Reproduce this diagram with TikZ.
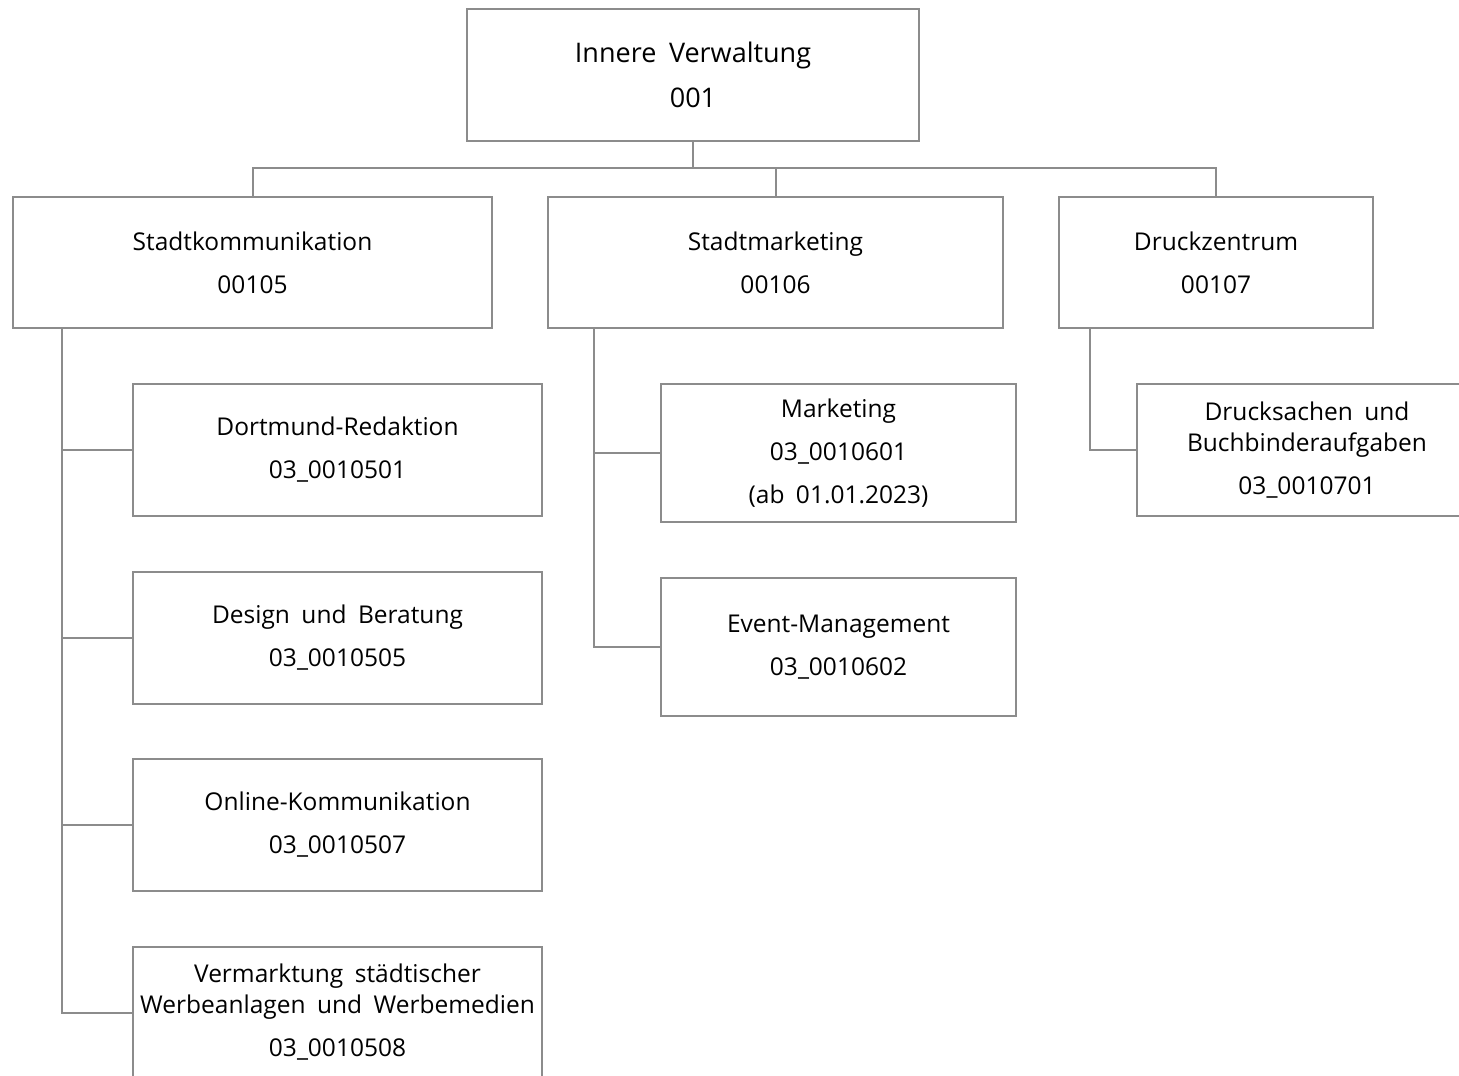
\documentclass[tikz,border=0pt]{standalone}
\usepackage{fontspec}
\setmainfont{Open Sans}[WordSpace=1.8]
\usepackage{xcolor}
\usepackage{tikz}
\usetikzlibrary{positioning}

\begin{document}
\begin{tikzpicture}[
    x=1pt, y=-1pt,
    node distance=55.5pt,
    unit/.style={rectangle, draw=black!45, line width=2pt, outer sep=0pt, minimum width=#1, minimum height=132pt, align=center, inner sep=0pt, font=\fontsize{24.5}{31}\selectfont},
    sub/.style={unit=409pt},
    link/.style={draw=black!45, line width=2pt},
]
\useasboundingbox (0,0) rectangle (1459,1076);

% Spitze
\node[unit=452pt, font=\fontsize{27}{31}\selectfont] (iv) at (693,75) {Innere Verwaltung\\[14pt]001};

% Bereiche
\node[unit=479pt, minimum height=131pt, below=56pt of iv, xshift=-440.5pt] (stk) {Stadtkommunikation\\[12pt]00105};
\node[unit=455pt, minimum height=131pt, below=56pt of iv, xshift=82.5pt] (stm) {Stadtmarketing\\[12pt]00106};
\node[unit=314pt, minimum height=131pt, below=56pt of iv, xshift=523pt] (drz) {Druckzentrum\\[12pt]00107};

% Stadtkommunikation
\node[sub, below=56pt of stk, xshift=85pt] (dort) {Dortmund-Redaktion\\[12pt]03\_0010501};
\node[sub, below=of dort] (design) {Design und Beratung\\[12pt]03\_0010505};
\node[sub, below=of design] (online) {Online-Kommunikation\\[12pt]03\_0010507};
\node[sub, below=of online] (werb) {Vermarktung städtischer\\Werbeanlagen und Werbemedien\\[12pt]03\_0010508};

% Stadtmarketing
\node[unit=355pt, minimum height=138pt, below=56pt of stm, xshift=63pt] (mkt) {Marketing\\[12pt]03\_0010601\\[12pt](ab 01.01.2023)};
\node[unit=355pt, minimum height=138pt, below=56pt of mkt] (event) {Event-Management\\[12pt]03\_0010602};

% Druckzentrum
\node[unit=340pt, below=56pt of drz, xshift=91pt] (buch) {Drucksachen und\\Buchbinderaufgaben\\[12pt]03\_0010701};

\draw[link] (iv.south) -- ++(0,27) -| (stk.north);
\draw[link] (iv.south) -- ++(0,27) -| (stm.north);
\draw[link] (iv.south) -- ++(0,27) -| (drz.north);

\draw[link] ([xshift=49pt]stk.south west) |- (dort.west);
\draw[link] ([xshift=49pt]stk.south west) |- (design.west);
\draw[link] ([xshift=49pt]stk.south west) |- (online.west);
\draw[link] ([xshift=49pt]stk.south west) |- (werb.west);

\draw[link] ([xshift=46pt]stm.south west) |- (mkt.west);
\draw[link] ([xshift=46pt]stm.south west) |- (event.west);

\draw[link] ([xshift=31pt]drz.south west) |- (buch.west);

\end{tikzpicture}
\end{document}
